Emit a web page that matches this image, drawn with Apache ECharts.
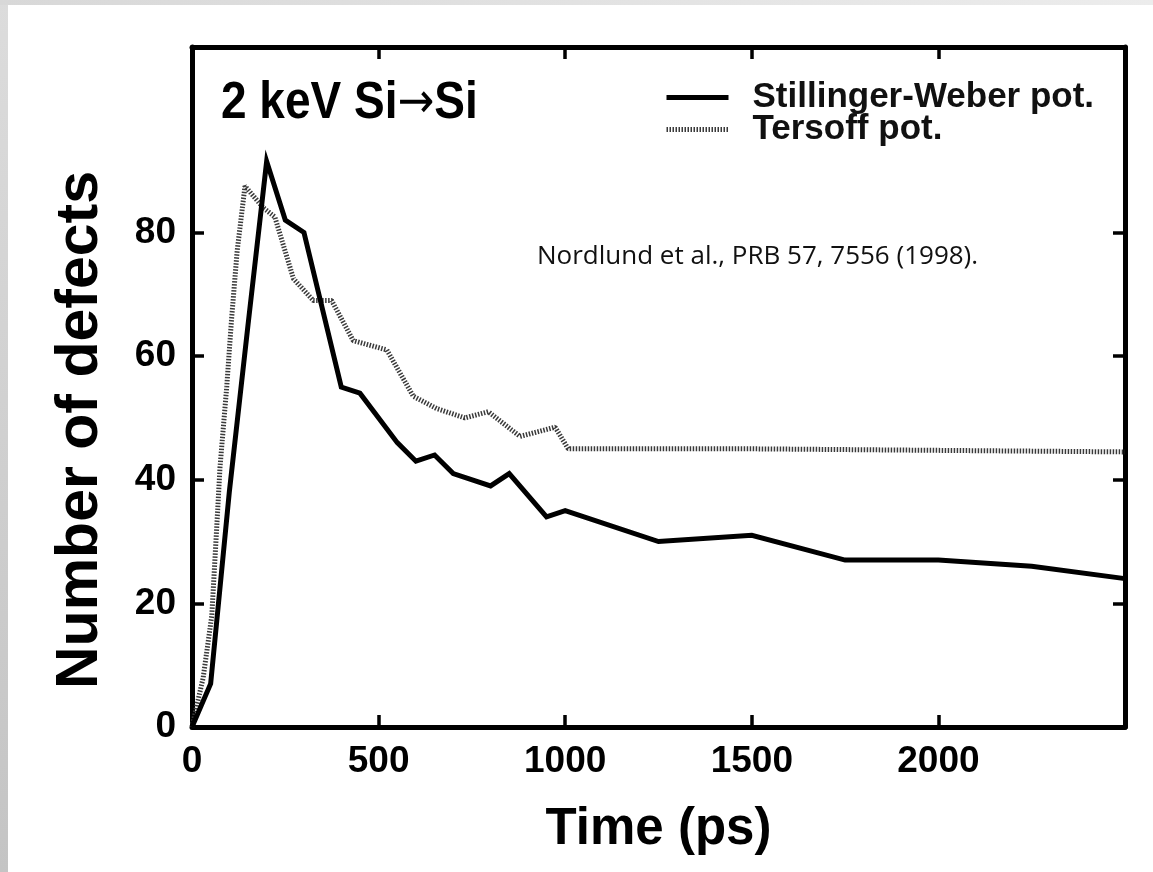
<!DOCTYPE html>
<html>
<head>
<meta charset="utf-8">
<script src="https://cdn.jsdelivr.net/npm/echarts@6/dist/echarts.min.js"></script>
<style>
  html, body { margin: 0; padding: 0; background: #ffffff; }
  #bgLeft { position: absolute; left: 0; top: 0; width: 8px; height: 872px;
            background: linear-gradient(to bottom, #dcdcdc, #c4c4c4); }
  #bgTop { position: absolute; left: 0; top: 0; width: 1153px; height: 5px;
           background: linear-gradient(to right, #d8d8d8, #ececec); }
  #chart { position: absolute; left: 0; top: 0; width: 1153px; height: 872px; }
</style>
</head>
<body>
<div id="bgLeft"></div>
<div id="bgTop"></div>
<div id="chart"></div>
<script>
// ---- data ----
const swTime    = [0, 50, 100, 150, 200, 250, 300, 400, 450, 550, 600, 650, 700, 800, 850, 950, 1000, 1250, 1500, 1750, 2000, 2250, 2500];
const swDefects = [0, 7, 38, 65, 91.5, 82, 80, 55, 54, 46, 43, 44, 41, 39, 41, 34, 35, 30, 31, 27, 27, 26, 24];

const tersoffTime    = [0, 30, 53, 66, 75, 93, 106, 121, 142, 191, 222, 272, 325, 374, 432, 522, 593, 656, 731, 794, 879, 973, 1008, 1500, 2500];
const tersoffDefects = [0, 8, 18, 32, 42, 55, 66, 77, 87.5, 84, 82.5, 72.5, 69, 69, 62.5, 61, 53.5, 51.5, 50, 51, 47, 48.5, 45, 45, 44.5];

const xTickValues = [0, 500, 1000, 1500, 2000];
const xTickLabels = ['0', '500', '1000', '1500', '2000'];
const yTickValues = [0, 20, 40, 60, 80];
const yTickLabels = ['0', '20', '40', '60', '80'];

const seriesNames = ['Stillinger-Weber pot.', 'Tersoff pot.'];
const titleParts = ['2 keV Si', '\u2192', 'Si'];
const citationText = 'Nordlund et al., PRB 57, 7556 (1998).';
const xName = 'Time (ps)';
const yName = 'Number of defects';

function zip(a, b) { return a.map((v, i) => [v, b[i]]); }

const FONT = '"Liberation Sans", Arial, Helvetica, sans-serif';
const axisLine = { show: true, onZero: false, lineStyle: { color: '#000', width: 5 } };
const tick = { show: true, inside: true, length: 12, lineStyle: { color: '#000', width: 3.5 } };

const chart = echarts.init(document.getElementById('chart'), null, { renderer: 'canvas' });
chart.setOption({
  backgroundColor: 'transparent',
  animation: false,
  legend: {
    orient: 'vertical',
    left: 664, top: 80, padding: 0,
    itemWidth: 62, itemHeight: 14, itemGap: -3,
    data: seriesNames,
    itemStyle: { opacity: 0 },
    lineStyle: { width: 5 },
    textStyle: { fontFamily: FONT, fontWeight: 'bold', fontSize: 35, color: '#111', lineHeight: 32, padding: [0, 0, 0, 19] }
  },
  graphic: [{
    type: 'text', x: 221, y: 130, scaleY: 1.12,
    style: {
      text: '{a|' + titleParts[0] + '}{b|' + titleParts[1] + '}{a|' + titleParts[2] + '}',
      verticalAlign: 'bottom',
      rich: {
        a: { fontFamily: FONT, fontWeight: 'bold', fontSize: 46, fill: '#000', lineHeight: 46 },
        b: { fontFamily: '"DejaVu Sans", sans-serif', fontWeight: 'normal', fontSize: 44, fill: '#000', lineHeight: 46 }
      }
    }
  }, {
    type: 'text', x: 537, y: 257,
    style: { text: citationText, fontFamily: '"Open Sans", "Noto Sans", sans-serif', fontSize: 26, fill: '#111', verticalAlign: 'middle' }
  }, {
    type: 'text', x: 81, y: 430, rotation: Math.PI / 2,
    style: { text: yName, fontFamily: FONT, fontWeight: 'bold', fontSize: 59, fill: '#000', align: 'center', verticalAlign: 'middle' }
  }],
  grid: { left: 192, right: 28, top: 47, bottom: 145 },
  xAxis: [{
    type: 'value', min: 0, max: 2500, interval: 500, position: 'bottom',
    name: xName, nameLocation: 'middle', nameGap: 77,
    nameTextStyle: { fontFamily: FONT, fontWeight: 'bold', fontSize: 51, color: '#000' },
    axisLine: axisLine,
    axisTick: Object.assign({}, tick, { customValues: xTickValues }),
    axisLabel: {
      customValues: xTickValues, margin: 16,
      formatter: v => xTickLabels[xTickValues.indexOf(v)] ?? '',
      fontFamily: FONT, fontWeight: 'bold', fontSize: 37, color: '#000'
    },
    splitLine: { show: false }
  }, {
    type: 'value', min: 0, max: 2500, interval: 500, position: 'top',
    axisLine: axisLine,
    axisTick: Object.assign({}, tick, { customValues: xTickValues }),
    axisLabel: { show: false },
    splitLine: { show: false }
  }],
  yAxis: [{
    type: 'value', min: 0, max: 110, interval: 20, position: 'left',
    axisLine: axisLine,
    axisTick: Object.assign({}, tick, { customValues: yTickValues }),
    axisLabel: {
      customValues: yTickValues, margin: 16,
      formatter: v => yTickLabels[yTickValues.indexOf(v)] ?? '',
      fontFamily: FONT, fontWeight: 'bold', fontSize: 37, color: '#000'
    },
    splitLine: { show: false }
  }, {
    type: 'value', min: 0, max: 110, interval: 20, position: 'right',
    axisLine: axisLine,
    axisTick: Object.assign({}, tick, { customValues: yTickValues }),
    axisLabel: { show: false },
    splitLine: { show: false }
  }],
  series: [{
    name: seriesNames[0], type: 'line', xAxisIndex: 0, yAxisIndex: 0,
    data: zip(swTime, swDefects), showSymbol: false, symbol: 'none',
    lineStyle: { color: '#000', width: 5, join: 'miter' }, itemStyle: { color: '#000' }, z: 3
  }, {
    name: seriesNames[1], type: 'line', xAxisIndex: 0, yAxisIndex: 0,
    data: zip(tersoffTime, tersoffDefects), showSymbol: false, symbol: 'none',
    lineStyle: { color: '#3a3a3a', width: 5, type: [1.5, 1.5] }, itemStyle: { color: '#3a3a3a' }, z: 2
  }]
});
</script>
</body>
</html>
